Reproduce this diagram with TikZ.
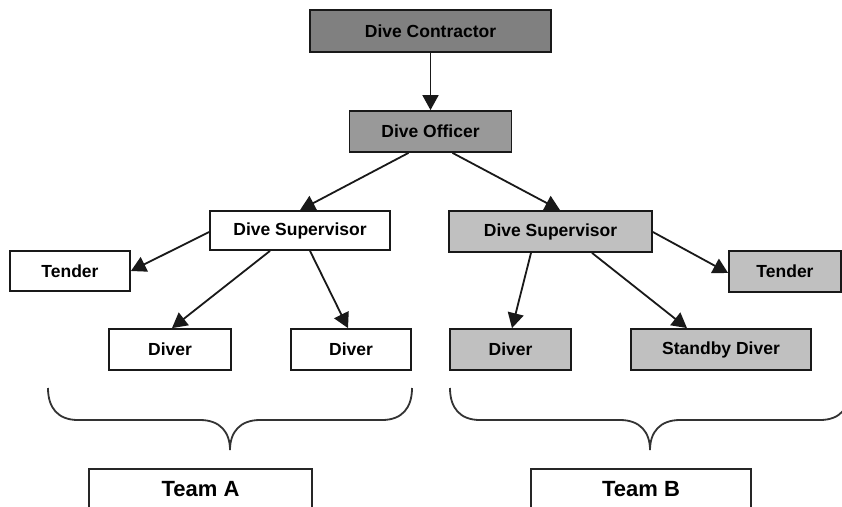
\documentclass[tikz,border=0pt]{standalone}
\usepackage{fontspec}
\setmainfont{Liberation Sans}
\usetikzlibrary{arrows.meta}
\definecolor{darkbox}{HTML}{808080}
\definecolor{midbox}{HTML}{999999}
\definecolor{lightbox}{HTML}{C0C0C0}
\begin{document}
\begin{tikzpicture}[x=1pt,y=-1pt,
  box/.style={draw=black!90, line width=1.8pt, inner sep=0pt, minimum height=40pt,
    font=\fontsize{17.5}{20}\selectfont\bfseries, text=black},
  teambox/.style={draw=black!85, line width=1.6pt, inner sep=0pt, minimum height=40pt,
    font=\fontsize{22}{24}\selectfont\bfseries, text=black},
  arr/.style={draw=black!90, line width=1.8pt, -{Triangle[length=15pt,width=16pt]}},
  brace/.style={draw=black!80, line width=1.8pt}]
\useasboundingbox (0,0) rectangle (842,506);
\clip (0,0) rectangle (842,506);
\fill[white] (0,0) rectangle (842,506);
% nodes
\node[box, fill=darkbox, minimum width=241pt, minimum height=42pt] (con) at (430.5,31) {Dive Contractor};
\node[box, fill=midbox, minimum width=162pt, minimum height=41pt] (off) at (430.5,131.5) {Dive Officer};
\node[box, fill=white, minimum width=180pt, minimum height=39pt] (supA) at (300,230.5) {Dive Supervisor};
\node[box, fill=lightbox, minimum width=203pt, minimum height=41pt] (supB) at (550.5,231.5) {Dive Supervisor};
\node[box, fill=white, minimum width=120pt] (tenA) at (70,271) {Tender};
\node[box, fill=lightbox, minimum width=112pt, minimum height=41pt] (tenB) at (785,271.5) {Tender};
\node[box, fill=white, minimum width=122pt, minimum height=41pt] (divA1) at (170,349.5) {Diver};
\node[box, fill=white, minimum width=120pt, minimum height=41pt] (divA2) at (351,349.5) {Diver};
\node[box, fill=lightbox, minimum width=121pt, minimum height=41pt] (divB) at (510.5,349.5) {Diver};
\node[box, fill=lightbox, minimum width=180pt, minimum height=41pt] (sby) at (721,349.5) {Standby Diver};
\node[teambox, minimum width=223pt] (teamA) at (200.5,489) {Team A};
\node[teambox, minimum width=220pt] (teamB) at (641,489) {Team B};
% connectors
\draw[arr] (con.south) -- (off.north);
\draw[arr] ([xshift=-22pt]off.south) -- (supA.north);
\draw[arr] ([xshift=22pt]off.south) -- ([xshift=9.5pt]supB.north);
\draw[arr] ([yshift=-1.5pt]supA.west) -- (tenA.east);
\draw[arr] ([xshift=-30pt]supA.south) -- ([xshift=2pt]divA1.north);
\draw[arr] ([xshift=10pt]supA.south) -- ([xshift=-3pt]divA2.north);
\draw[arr] ([yshift=-0.5pt]supB.east) -- ([yshift=-1.5pt]tenB.west);
\draw[arr] ([xshift=-19.5pt]supB.south) -- ([xshift=1.5pt]divB.north);
\draw[arr] ([xshift=41.5pt]supB.south) -- ([xshift=-34pt]sby.north);
% braces
\draw[brace] (48,388) .. controls (48,408) and (58,420) .. (78,420) -- (200,420)
  .. controls (220,420) and (230,432) .. (230,450)
  .. controls (230,432) and (240,420) .. (260,420) -- (382,420)
  .. controls (402,420) and (412,408) .. (412,388);
\draw[brace] (450,388) .. controls (450,408) and (460,420) .. (480,420) -- (620,420)
  .. controls (640,420) and (650,432) .. (650,450)
  .. controls (650,432) and (660,420) .. (680,420) -- (820,420)
  .. controls (840,420) and (850,408) .. (850,388);
\end{tikzpicture}
\end{document}
